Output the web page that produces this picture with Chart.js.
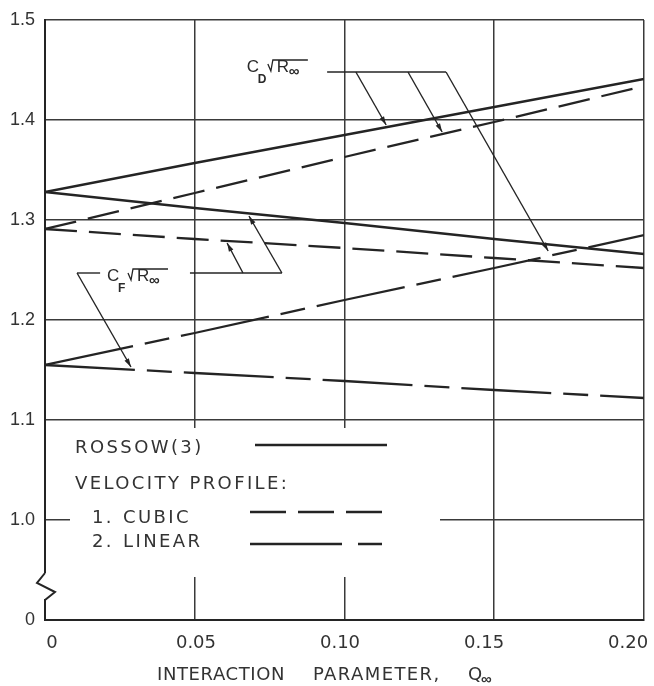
<!DOCTYPE html>
<html>
<head>
<meta charset="utf-8">
<script src="https://cdn.jsdelivr.net/npm/chart.js@4.4.1/dist/chart.umd.min.js"></script>
<style>
html,body{margin:0;padding:0;background:#fff;}
#wrap{width:654px;height:686px;}
</style>
</head>
<body>
<div id="wrap"><canvas id="c" width="654" height="686"></canvas></div>
<script>
// ---- data ----
const qValues   = [0, 0.05, 0.10, 0.15, 0.20];
const rossowCD  = [1.328, 1.357, 1.385, 1.413, 1.441];
const cubicCD   = [1.291, 1.327, 1.363, 1.398, 1.434];
const linearCD  = [1.155, 1.187, 1.220, 1.252, 1.285];
const rossowCF  = [1.328, 1.312, 1.297, 1.281, 1.266];
const cubicCF   = [1.291, 1.281, 1.272, 1.262, 1.252];
const linearCF  = [1.155, 1.147, 1.139, 1.130, 1.122];

const xTickValues = [0, 0.05, 0.10, 0.15, 0.20];
const xTickLabels = ['0', '0.05', '0.10', '0.15', '0.20'];
const yTickValues = [0.9, 1.0, 1.1, 1.2, 1.3, 1.4, 1.5];
const yTickLabels = ['0', '1.0', '1.1', '1.2', '1.3', '1.4', '1.5'];

const legendLabels = ['ROSSOW(3)', 'VELOCITY PROFILE:', '1.', 'CUBIC', '2.', 'LINEAR'];
const axisTitleWords = ['INTERACTION', 'PARAMETER,', 'Q', '\u221E'];

// ---- styles ----
const ink = '#242424';
const gridInk = '#3a3a3a';
const cubicDash = [32, 12];
const linearDash = [90, 12, 25, 12];
const solidDash = [];

const pts = arr => qValues.map((q, i) => ({x: q, y: arr[i]}));
const ds = (label, arr, dash) => ({
  label, data: pts(arr), borderColor: ink, borderWidth: 2.3,
  borderDash: dash, pointRadius: 0, fill: false, tension: 0, xAxisID: 'x'
});

// annotation anchors in data coordinates (q, value)
const notes = {
  labels: [
    {q: 0.0674, v: 1.448, sub: 'D'},
    {q: 0.0207, v: 1.239, sub: 'F'}
  ],
  leaders: [
    [0.0942, 1.448, 0.1339, 1.448],
    [0.0107, 1.247, 0.0184, 1.247],
    [0.0484, 1.247, 0.0791, 1.247]
  ],
  arrows: [
    [0.1038, 1.448, 0.1139, 1.395],
    [0.1212, 1.448, 0.1326, 1.388],
    [0.1339, 1.448, 0.1680, 1.269],
    [0.0107, 1.247, 0.0287, 1.153],
    [0.0661, 1.247, 0.0608, 1.277],
    [0.0791, 1.247, 0.0681, 1.304]
  ]
};

function setSpacing(ctx, s) { if ('letterSpacing' in ctx) ctx.letterSpacing = s; }

function drawArrow(ctx, x1, y1, x2, y2) {
  ctx.beginPath(); ctx.moveTo(x1, y1); ctx.lineTo(x2, y2); ctx.stroke();
  const ang = Math.atan2(y2 - y1, x2 - x1);
  const len = 9, w = 0.28;
  ctx.beginPath();
  ctx.moveTo(x2, y2);
  ctx.lineTo(x2 - len * Math.cos(ang - w), y2 - len * Math.sin(ang - w));
  ctx.lineTo(x2 - len * Math.cos(ang + w), y2 - len * Math.sin(ang + w));
  ctx.closePath(); ctx.fill();
}

function rootLabel(ctx, x, y, sub) {
  ctx.textAlign = 'left'; ctx.textBaseline = 'alphabetic';
  ctx.font = '17px "Liberation Sans"'; ctx.fillText('C', x, y);
  ctx.font = 'bold 12px "Liberation Sans"'; ctx.fillText(sub, x + 11, y + 11);
  ctx.lineWidth = 1.3;
  ctx.beginPath();
  ctx.moveTo(x + 21, y - 8); ctx.lineTo(x + 24, y - 1); ctx.lineTo(x + 26, y - 12); ctx.lineTo(x + 61, y - 12);
  ctx.stroke();
  ctx.font = '17px "Liberation Sans"'; ctx.fillText('R', x + 30, y);
  ctx.font = 'bold 15px "Liberation Sans"'; ctx.fillText('\u221E', x + 42, y + 4);
}

const paperPlugin = {
  id: 'paper',
  beforeDatasetsDraw(chart) {
    const {ctx, chartArea: a} = chart;
    ctx.save();
    ctx.fillStyle = '#fff';
    // legend panel interrupts the grid
    ctx.fillRect(a.left + 25, a.bottom - 192, 370, 149);
    // axis break
    ctx.fillRect(a.left - 3, a.bottom - 47, 6, 26);
    ctx.strokeStyle = ink; ctx.lineWidth = 2;
    ctx.beginPath();
    ctx.moveTo(a.left, a.bottom - 47);
    ctx.lineTo(a.left - 8, a.bottom - 37);
    ctx.lineTo(a.left + 10, a.bottom - 28);
    ctx.lineTo(a.left, a.bottom - 20);
    ctx.stroke();

    // legend text
    ctx.fillStyle = '#333';
    ctx.font = '18px "DejaVu Sans"';
    ctx.textAlign = 'left'; ctx.textBaseline = 'alphabetic';
    setSpacing(ctx, '2.4px');
    ctx.fillText(legendLabels[0], a.left + 30, a.bottom - 167);
    ctx.fillText(legendLabels[1], a.left + 30, a.bottom - 131);
    ctx.fillText(legendLabels[2], a.left + 47, a.bottom - 97);
    ctx.fillText(legendLabels[3], a.left + 78, a.bottom - 97);
    ctx.fillText(legendLabels[4], a.left + 47, a.bottom - 73);
    ctx.fillText(legendLabels[5], a.left + 78, a.bottom - 73);
    setSpacing(ctx, '0px');

    // legend samples
    ctx.strokeStyle = ink; ctx.lineWidth = 2.3;
    const sample = (dash, x1, x2, y) => {
      ctx.setLineDash(dash); ctx.beginPath(); ctx.moveTo(x1, y); ctx.lineTo(x2, y); ctx.stroke();
    };
    sample(solidDash, a.left + 210, a.left + 342, a.bottom - 175);
    sample([36, 12], a.left + 205, a.left + 342, a.bottom - 108);
    sample([92, 16, 24, 40], a.left + 205, a.left + 337, a.bottom - 76);
    ctx.setLineDash([]);
    ctx.restore();
  },
  afterDatasetsDraw(chart) {
    const {ctx, chartArea: a, scales} = chart;
    const X = q => scales.x.getPixelForValue(q);
    const Y = v => scales.y.getPixelForValue(v);
    ctx.save();
    ctx.strokeStyle = ink; ctx.fillStyle = ink; ctx.lineWidth = 1.4;
    notes.leaders.forEach(([q1, v1, q2, v2]) => {
      ctx.beginPath(); ctx.moveTo(X(q1), Y(v1)); ctx.lineTo(X(q2), Y(v2)); ctx.stroke();
    });
    notes.arrows.forEach(([q1, v1, q2, v2]) => drawArrow(ctx, X(q1), Y(v1), X(q2), Y(v2)));
    ctx.fillStyle = '#2a2a2a';
    notes.labels.forEach(l => rootLabel(ctx, X(l.q), Y(l.v), l.sub));

    // x-axis title with subscript
    ctx.fillStyle = '#333';
    ctx.textAlign = 'left'; ctx.textBaseline = 'alphabetic';
    ctx.font = '18px "DejaVu Sans"';
    setSpacing(ctx, '0.6px');
    const ty = a.bottom + 60;
    ctx.fillText(axisTitleWords[0], a.left + 112, ty);
    setSpacing(ctx, '1.4px');
    ctx.fillText(axisTitleWords[1], a.left + 268, ty);
    setSpacing(ctx, '0px');
    ctx.fillText(axisTitleWords[2], a.left + 423, ty);
    ctx.font = 'bold 15px "Liberation Sans"';
    ctx.fillText(axisTitleWords[3], a.left + 436, ty + 4);
    ctx.restore();
  }
};

new Chart(document.getElementById('c'), {
  type: 'line',
  data: {
    datasets: [
      ds('Rossow C_D', rossowCD, solidDash),
      ds('Cubic C_D', cubicCD, cubicDash),
      ds('Linear C_D', linearCD, linearDash),
      ds('Rossow C_F', rossowCF, solidDash),
      ds('Cubic C_F', cubicCF, cubicDash),
      ds('Linear C_F', linearCF, linearDash)
    ]
  },
  options: {
    responsive: false,
    animation: false,
    devicePixelRatio: 1,
    layout: {padding: {top: 20, right: 10, bottom: 0, left: 0}},
    plugins: {legend: {display: false}, tooltip: {enabled: false}, title: {display: false}},
    scales: {
      x: {
        type: 'linear', min: 0, max: 0.2, position: 'bottom',
        afterBuildTicks: s => { s.ticks = xTickValues.map(v => ({value: v})); },
        afterFit: s => { s.height = 0; s.paddingLeft = 0; s.paddingRight = 0; },
        ticks: {display: false},
        grid: {color: gridInk, lineWidth: 1.5, drawTicks: false},
        border: {display: true, color: ink, width: 2}
      },
      // label axis: the drawing's tick lettering sits on a slightly compressed scale
      xLabels: {
        type: 'linear', min: -0.0024, max: 0.2055, position: 'bottom',
        afterBuildTicks: s => { s.ticks = xTickValues.map(v => ({value: v})); },
        afterFit: s => { s.height = 66; s.paddingLeft = 0; s.paddingRight = 0; },
        ticks: {
          callback: (v, i) => xTickLabels[i],
          font: {family: 'DejaVu Sans', size: 18},
          color: '#333', padding: 13, maxRotation: 0, autoSkip: false
        },
        grid: {display: false, drawTicks: false},
        border: {display: false}
      },
      y: {
        type: 'linear', min: 0.9, max: 1.5,
        afterBuildTicks: s => { s.ticks = yTickValues.map(v => ({value: v})); },
        afterFit: s => { s.width = 45; s.paddingTop = 0; s.paddingBottom = 0; },
        ticks: {
          callback: (v, i) => yTickLabels[i],
          font: {family: 'Liberation Sans', size: 18},
          color: '#333', padding: 10, autoSkip: false
        },
        grid: {color: gridInk, lineWidth: 1.5, drawTicks: false},
        border: {display: true, color: ink, width: 2}
      }
    }
  },
  plugins: [paperPlugin]
});
</script>
</body>
</html>
